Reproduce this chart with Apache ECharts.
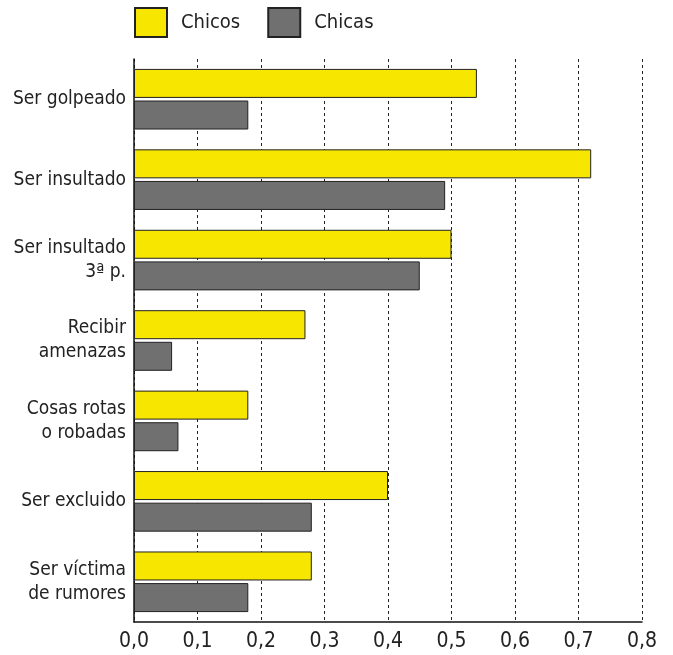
<!DOCTYPE html>
<html><head><meta charset="utf-8">
<script src="https://cdn.jsdelivr.net/npm/echarts@6/dist/echarts.min.js"></script>
<style>html,body{margin:0;padding:0;background:#fff}#c{width:673px;height:655px}</style>
</head><body><div id="c"></div>
<script>
var categories = ["Ser golpeado","Ser insultado","Ser insultado\n3ª p.","Recibir\namenazas","Cosas rotas\no robadas","Ser excluido","Ser víctima\nde rumores"];
var chicos = [0.54,0.72,0.50,0.27,0.18,0.40,0.28];
var chicas = [0.18,0.49,0.45,0.06,0.07,0.28,0.18];
var FONT = '"Liberation Sans Narrow","DejaVu Sans Condensed",sans-serif';
var chart = echarts.init(document.getElementById('c'), null, {renderer:'canvas'});
chart.setOption({
  animation:false,
  textStyle:{fontFamily:FONT},
  legend:{left:134, top:7, padding:0, itemWidth:32, itemHeight:29, itemGap:27,
    textStyle:{fontFamily:FONT, fontSize:20, color:'#222', padding:[0,0,0,9]},
    data:[{name:'Chicos', icon:'rect'},{name:'Chicas', icon:'rect'}]},
  grid:{left:134, right:31, top:59, bottom:33, containLabel:false},
  xAxis:{type:'value', min:0, max:0.8, interval:0.1,
    axisLine:{show:true, lineStyle:{color:'#111', width:1.5}},
    axisTick:{show:false},
    axisLabel:{fontFamily:FONT, fontSize:21, color:'#222', margin:9,
      formatter:function(v){return v.toFixed(1).replace('.',',');}},
    splitLine:{show:true, lineStyle:{color:'#222', type:[3,3], width:1}}
  },
  yAxis:{type:'category', inverse:true, data:categories,
    axisLine:{show:true, lineStyle:{color:'#111', width:1.5}},
    axisTick:{show:false},
    axisLabel:{fontFamily:FONT, fontSize:19, color:'#222', margin:8, lineHeight:24, align:'right'},
    splitLine:{show:false}
  },
  series:[
    {name:'Chicos', type:'bar', data:chicos, barWidth:29, barGap:'9%', barCategoryGap:'25%',
     itemStyle:{color:'#F6E600', borderColor:'#222', borderWidth:1}},
    {name:'Chicas', type:'bar', data:chicas, barWidth:29, barGap:'9%',
     itemStyle:{color:'#707070', borderColor:'#222', borderWidth:1}}
  ]
});
</script></body></html>
